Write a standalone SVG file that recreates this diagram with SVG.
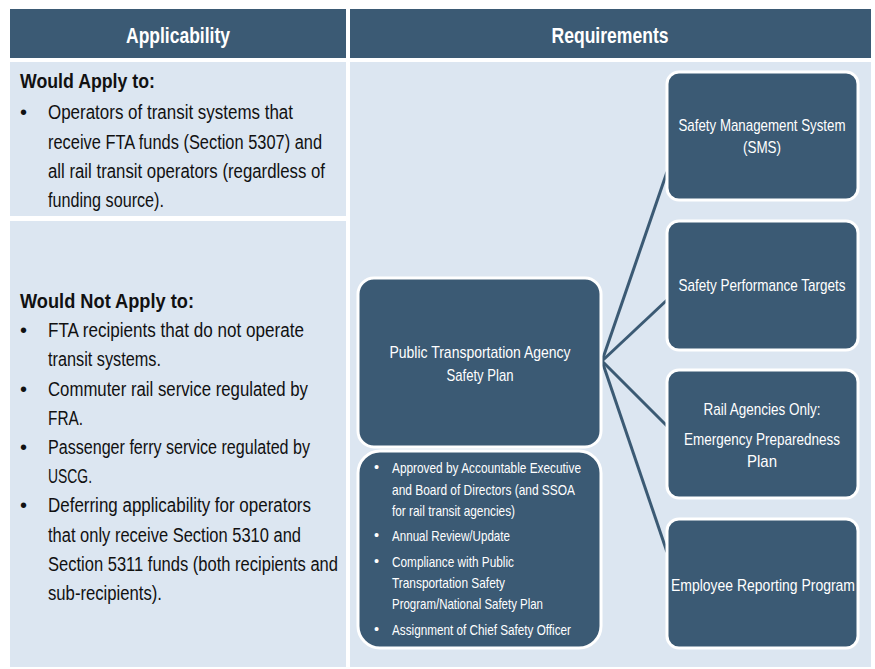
<svg xmlns="http://www.w3.org/2000/svg" width="875" height="669" viewBox="0 0 875 669">
<style>
.hdr{fill:#3b5a74}
.cell{fill:#dce6f1}
.box{fill:#3b5a74;stroke:#ffffff;stroke-width:3}
.ht{font-family:"Liberation Sans",Arial,sans-serif;font-size:22px;font-weight:bold;fill:#ffffff;text-anchor:middle}
.lt{font-family:"Liberation Sans",Arial,sans-serif;font-size:20px;fill:#111111}
.lb{font-family:"Liberation Sans",Arial,sans-serif;font-size:21px;font-weight:bold;fill:#111111}
.bt{font-family:"Liberation Sans",Arial,sans-serif;font-size:17px;fill:#ffffff;text-anchor:middle}
.st{font-family:"Liberation Sans",Arial,sans-serif;font-size:14.5px;fill:#ffffff}
.conn{stroke:#3b5a74;stroke-width:3;fill:none}
</style>
<rect width="875" height="669" fill="#ffffff"/>
<g id="header-applicability">
<rect class="hdr" x="10" y="9" width="336" height="49"/>
<text class="ht" x="178" y="43" textLength="104" lengthAdjust="spacingAndGlyphs">Applicability</text>
</g>
<g id="header-requirements">
<rect class="hdr" x="350" y="9" width="521" height="49"/>
<text class="ht" x="610" y="43" textLength="117" lengthAdjust="spacingAndGlyphs">Requirements</text>
</g>
<g id="cell-apply">
<rect class="cell" x="10" y="62" width="336" height="154"/>
<text class="lb" x="20" y="88" textLength="135" lengthAdjust="spacingAndGlyphs">Would Apply to:</text>
<text class="lt" x="20" y="119">•</text>
<text class="lt" x="48" y="119" textLength="245" lengthAdjust="spacingAndGlyphs">Operators of transit systems that</text>
<text class="lt" x="48" y="149" textLength="274" lengthAdjust="spacingAndGlyphs">receive FTA funds (Section 5307) and</text>
<text class="lt" x="48" y="178" textLength="277" lengthAdjust="spacingAndGlyphs">all rail transit operators (regardless of</text>
<text class="lt" x="48" y="207" textLength="116" lengthAdjust="spacingAndGlyphs">funding source).</text>
</g>
<g id="cell-not-apply">
<rect class="cell" x="10" y="221" width="336" height="446"/>
<text class="lb" x="20" y="308" textLength="174" lengthAdjust="spacingAndGlyphs">Would Not Apply to:</text>
<text class="lt" x="20" y="337">•</text>
<text class="lt" x="48" y="337" textLength="256" lengthAdjust="spacingAndGlyphs">FTA recipients that do not operate</text>
<text class="lt" x="48" y="366" textLength="113" lengthAdjust="spacingAndGlyphs">transit systems.</text>
<text class="lt" x="20" y="396">•</text>
<text class="lt" x="48" y="396" textLength="260" lengthAdjust="spacingAndGlyphs">Commuter rail service regulated by</text>
<text class="lt" x="48" y="425" textLength="35" lengthAdjust="spacingAndGlyphs">FRA.</text>
<text class="lt" x="20" y="454">•</text>
<text class="lt" x="48" y="454" textLength="262" lengthAdjust="spacingAndGlyphs">Passenger ferry service regulated by</text>
<text class="lt" x="48" y="483" textLength="44" lengthAdjust="spacingAndGlyphs">USCG.</text>
<text class="lt" x="20" y="512">•</text>
<text class="lt" x="48" y="512" textLength="263" lengthAdjust="spacingAndGlyphs">Deferring applicability for operators</text>
<text class="lt" x="48" y="542" textLength="253" lengthAdjust="spacingAndGlyphs">that only receive Section 5310 and</text>
<text class="lt" x="48" y="571" textLength="290" lengthAdjust="spacingAndGlyphs">Section 5311 funds (both recipients and</text>
<text class="lt" x="48" y="600" textLength="114" lengthAdjust="spacingAndGlyphs">sub-recipients).</text>
</g>
<rect class="cell" x="350" y="62" width="521" height="605"/>
<g id="connectors">
<line class="conn" x1="602" y1="361" x2="667" y2="172"/>
<line class="conn" x1="602" y1="361" x2="667" y2="300"/>
<line class="conn" x1="602" y1="361" x2="667" y2="426"/>
<line class="conn" x1="602" y1="361" x2="667" y2="552"/>
</g>
<g id="node-ptasp">
<rect class="box" x="358" y="278" width="243" height="169" rx="16"/>
<text class="bt" x="480" y="358" textLength="181" lengthAdjust="spacingAndGlyphs">Public Transportation Agency</text>
<text class="bt" x="480" y="381" textLength="67" lengthAdjust="spacingAndGlyphs">Safety Plan</text>
</g>
<g id="node-ptasp-details">
<rect class="box" x="358" y="451" width="243" height="197" rx="22"/>
<text class="st" x="374" y="472">•</text>
<text class="st" x="392" y="473" textLength="189" lengthAdjust="spacingAndGlyphs">Approved by Accountable Executive</text>
<text class="st" x="392" y="495" textLength="183" lengthAdjust="spacingAndGlyphs">and Board of Directors (and SSOA</text>
<text class="st" x="392" y="516" textLength="123" lengthAdjust="spacingAndGlyphs">for rail transit agencies)</text>
<text class="st" x="374" y="540">•</text>
<text class="st" x="392" y="541" textLength="118" lengthAdjust="spacingAndGlyphs">Annual Review/Update</text>
<text class="st" x="374" y="566">•</text>
<text class="st" x="392" y="567" textLength="122" lengthAdjust="spacingAndGlyphs">Compliance with Public</text>
<text class="st" x="392" y="588" textLength="113" lengthAdjust="spacingAndGlyphs">Transportation Safety</text>
<text class="st" x="392" y="609" textLength="151" lengthAdjust="spacingAndGlyphs">Program/National Safety Plan</text>
<text class="st" x="374" y="634">•</text>
<text class="st" x="392" y="635" textLength="179" lengthAdjust="spacingAndGlyphs">Assignment of Chief Safety Officer</text>
</g>
<g id="node-sms">
<rect class="box" x="667" y="72" width="191" height="128" rx="12"/>
<text class="bt" x="762" y="131" textLength="167" lengthAdjust="spacingAndGlyphs">Safety Management System</text>
<text class="bt" x="762" y="153" textLength="38" lengthAdjust="spacingAndGlyphs">(SMS)</text>
</g>
<g id="node-spt">
<rect class="box" x="667" y="221" width="191" height="129" rx="12"/>
<text class="bt" x="762" y="291" textLength="167" lengthAdjust="spacingAndGlyphs">Safety Performance Targets</text>
</g>
<g id="node-epp">
<rect class="box" x="667" y="370" width="191" height="128" rx="12"/>
<text class="bt" x="762" y="415" textLength="117" lengthAdjust="spacingAndGlyphs">Rail Agencies Only:</text>
<text class="bt" x="762" y="445" textLength="156" lengthAdjust="spacingAndGlyphs">Emergency Preparedness</text>
<text class="bt" x="762" y="467" textLength="30" lengthAdjust="spacingAndGlyphs">Plan</text>
</g>
<g id="node-erp">
<rect class="box" x="667" y="519" width="191" height="129" rx="12"/>
<text class="bt" x="763" y="591" textLength="184" lengthAdjust="spacingAndGlyphs">Employee Reporting Program</text>
</g>
</svg>
